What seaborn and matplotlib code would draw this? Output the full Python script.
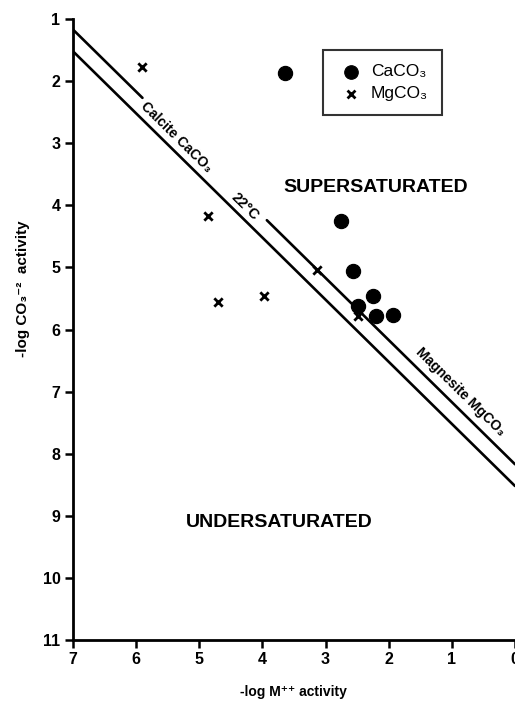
import numpy as np
import pandas as pd
import matplotlib
matplotlib.use("Agg")
import matplotlib.pyplot as plt
import seaborn as sns

# ---- data ----
ca_x = [3.64, 2.75, 2.56, 2.25, 2.48, 2.20, 1.94]
ca_y = [1.87, 4.26, 5.06, 5.46, 5.62, 5.78, 5.77]
mg_x = [5.91, 4.86, 4.71, 3.97, 3.14, 2.48]
mg_y = [1.77, 4.18, 5.55, 5.46, 5.04, 5.78]

# equilibrium lines: -log CO3 = pK - (-log M)
pk_upper = 8.17
pk_lower = 8.52
line_x = [7.0, 0.0]
upper_gap = (5.90, 3.93)   # gap in the upper line where labels sit

x_ticks = [7, 6, 5, 4, 3, 2, 1, 0]
y_ticks = [1, 2, 3, 4, 5, 6, 7, 8, 9, 10, 11]

sns.set_style("ticks")
plt.rcParams["font.family"] = ["Liberation Sans", "DejaVu Sans"]
for k in ("text.color", "axes.labelcolor", "xtick.color", "ytick.color",
          "axes.edgecolor"):
    plt.rcParams[k] = "black"

fig = plt.figure(figsize=(5.15, 7.01), dpi=100)
ax = fig.add_axes([73 / 515, 1 - 640 / 701, 442 / 515, 621 / 701])
ax.set_xlim(7, 0)
ax.set_ylim(11, 1)

# lines
lw = 1.9
seg1 = pd.DataFrame({"x": [line_x[0], upper_gap[0]]})
seg1["y"] = pk_upper - seg1["x"]
seg2 = pd.DataFrame({"x": [upper_gap[1], line_x[1]]})
seg2["y"] = pk_upper - seg2["x"]
low = pd.DataFrame({"x": line_x})
low["y"] = pk_lower - low["x"]
for d in (seg1, seg2, low):
    sns.lineplot(data=d, x="x", y="y", ax=ax, color="black", lw=lw,
                 sort=False, estimator=None)

# points
ca = pd.DataFrame({"x": ca_x, "y": ca_y})
mg = pd.DataFrame({"x": mg_x, "y": mg_y})
sns.scatterplot(data=ca, x="x", y="y", ax=ax, marker="o", s=105,
                color="black", edgecolor="black", label="CaCO\u2083", zorder=3)
sns.scatterplot(data=mg, x="x", y="y", ax=ax, marker="x", s=36,
                color="black", linewidth=2.0, label="MgCO\u2083", zorder=3)

# axes styling
for side in ("top", "right"):
    ax.spines[side].set_visible(False)
for side in ("left", "bottom"):
    ax.spines[side].set_linewidth(2)
    ax.spines[side].set_color("black")
ax.set_xticks(x_ticks)
ax.set_yticks(y_ticks)
ax.set_xticklabels([str(t) for t in x_ticks], fontweight="bold", fontsize=11.5)
ax.set_yticklabels([str(t) for t in y_ticks], fontweight="bold", fontsize=11.5)
ax.tick_params(axis="both", direction="out", length=6, width=1.8, color="black",
               pad=3)

ax.set_xlabel("-log M\u207a\u207a activity", fontweight="bold", fontsize=10)
ax.xaxis.set_label_coords(0.498, -0.072)
ax.set_ylabel("-log CO\u2083\u207b\u00b2  activity", fontweight="bold", fontsize=11)
ax.yaxis.set_label_coords(-0.097, 0.565)

# rotation of the equilibrium lines in display space
p0 = ax.transData.transform((7, 0))
p1 = ax.transData.transform((0, 7))
angle = np.degrees(np.arctan2(p1[1] - p0[1], p1[0] - p0[0]))

ax.text(5.36, 2.90, "Calcite CaCO\u2083", rotation=angle, ha="center",
        va="center", fontsize=10, fontweight="bold", rotation_mode="anchor")
ax.text(4.27, 4.02, "22\u00b0C", rotation=angle, ha="center", va="center",
        fontsize=10.5, fontweight="bold", rotation_mode="anchor")
ax.text(0.87, 7.00, "Magnesite MgCO\u2083", rotation=angle, ha="center",
        va="center", fontsize=10, fontweight="bold", rotation_mode="anchor")

ax.text(2.21, 3.72, "SUPERSATURATED", ha="center", va="center", fontsize=14,
        fontweight="bold")
ax.text(3.73, 9.10, "UNDERSATURATED", ha="center", va="center", fontsize=14,
        fontweight="bold")

leg = ax.legend(loc="upper left", bbox_to_anchor=(0.566, 0.950), frameon=True,
                fancybox=False, edgecolor="black", fontsize=12.5,
                handletextpad=0.35, borderpad=0.8, labelspacing=0.4,
                handlelength=1.6, markerscale=0.95, borderaxespad=0)
leg.get_frame().set_linewidth(1.5)

fig.savefig("out.png", dpi=100, facecolor="white")
